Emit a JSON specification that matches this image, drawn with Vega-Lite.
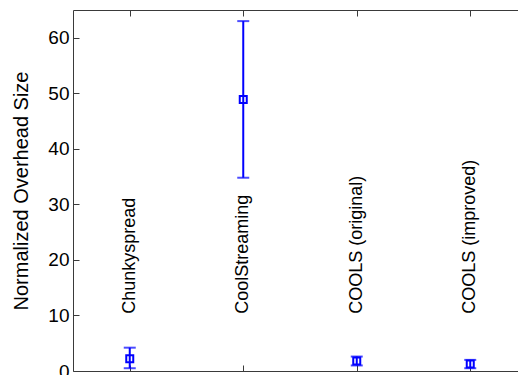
{
  "$schema": "https://vega.github.io/schema/vega-lite/v6.json",
  "width": 445,
  "height": 361,
  "autosize": {"type": "none"},
  "padding": {"left": 73, "top": 10, "right": 0, "bottom": 4},
  "background": "white",
  "config": {
    "view": {"stroke": "#3a3a3a", "strokeWidth": 1},
    "font": "Liberation Sans",
    "axis": {"domain": false, "grid": false, "tickColor": "#3a3a3a", "tickWidth": 1, "labelColor": "black", "titleColor": "black", "labelFont": "Liberation Sans", "titleFont": "Liberation Sans"}
  },
  "data": {
    "values": [
      {"method": "Chunkyspread", "mean": 2.2, "low": 0.5, "high": 4.2},
      {"method": "CoolStreaming", "mean": 48.9, "low": 34.8, "high": 63.0},
      {"method": "COOLS (original)", "mean": 1.8, "low": 1.0, "high": 2.6},
      {"method": "COOLS (improved)", "mean": 1.25, "low": 0.5, "high": 2.0}
    ]
  },
  "layer": [
    {
      "mark": {"type": "rule", "color": "#0000ff", "strokeWidth": 2},
      "encoding": {
        "x": {"field": "method", "type": "nominal", "sort": null, "scale": {"type": "point", "range": [56.75, 397.25], "padding": 0},
              "axis": {"orient": "bottom", "labels": false, "title": null, "tickSize": -6}},
        "y": {"field": "low", "type": "quantitative", "scale": {"domain": [0, 65], "nice": false, "zero": false},
              "title": "Normalized Overhead Size",
              "axis": {"values": [0, 10, 20, 30, 40, 50, 60], "tickSize": -6, "labelPadding": 10, "labelFontSize": 19, "titleFontSize": 20, "titleFontWeight": "normal", "titleX": -52, "titleY": 180.5, "titleAngle": 270, "titleBaseline": "middle", "titleAlign": "center"}},
        "y2": {"field": "high"}
      }
    },
    {
      "mark": {"type": "tick", "color": "#0000ff", "thickness": 2, "size": 12},
      "encoding": {
        "x": {"field": "method", "type": "nominal", "sort": null, "axis": {"orient": "top", "labels": false, "title": null, "tickSize": -6}},
        "y": {"field": "low", "type": "quantitative", "title": "Normalized Overhead Size"}
      }
    },
    {
      "mark": {"type": "tick", "color": "#0000ff", "thickness": 2, "size": 12},
      "encoding": {
        "x": {"field": "method", "type": "nominal", "sort": null, "axis": null},
        "y": {"field": "high", "type": "quantitative", "title": "Normalized Overhead Size"}
      }
    },
    {
      "mark": {"type": "point", "shape": "square", "filled": false, "color": "#0000ff", "size": 49, "strokeWidth": 2, "opacity": 1},
      "encoding": {
        "x": {"field": "method", "type": "nominal", "sort": null, "axis": null},
        "y": {"field": "mean", "type": "quantitative", "title": "Normalized Overhead Size"}
      }
    },
    {
      "mark": {"type": "text", "angle": 270, "align": "left", "baseline": "middle", "fontSize": 18, "color": "black", "font": "Liberation Sans"},
      "encoding": {
        "x": {"field": "method", "type": "nominal", "sort": null, "axis": null},
        "y": {"datum": 10.3, "type": "quantitative"},
        "text": {"field": "method"}
      }
    }
  ],
  "resolve": {"axis": {"x": "independent"}}
}
